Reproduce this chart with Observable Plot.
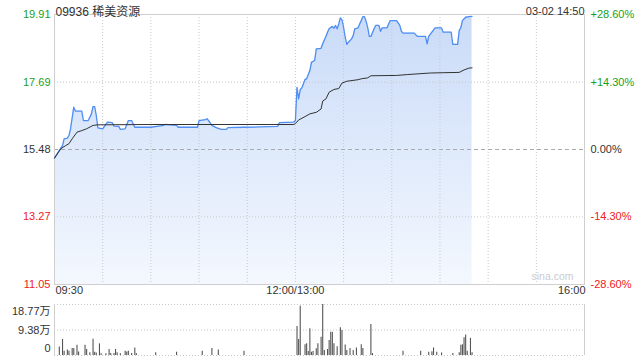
<!DOCTYPE html>
<html><head><meta charset="utf-8">
<script src="https://cdn.jsdelivr.net/npm/d3@7"></script>
<script src="https://cdn.jsdelivr.net/npm/@observablehq/plot@0.6"></script>
<style>
body{margin:0;background:#fff;}
#c{width:640px;height:360px;overflow:hidden;}
#c svg{display:block;}
</style></head>
<body><div id="c"></div>
<script>
const titleText = "09936 稀美资源";
const stampText = "03-02 14:50";
const watermark = "sina.com";
const prevClose = 15.48;

const priceTime = ["09:30","09:33","09:35","09:36","09:38","09:39","09:40","09:42","09:43","09:47","09:48","09:51","09:52","09:53","09:54","09:55","09:56","09:57","10:00","10:03","10:06","10:07","10:10","10:11","10:14","10:16","10:18","10:20","10:30","10:38","10:39","10:46","10:47","10:59","11:00","11:04","11:05","11:07","11:08","11:11","11:14","11:17","11:18","11:28","11:38","11:49","11:50","11:59","13:00","13:01","13:02","13:03","13:04","13:06","13:07","13:09","13:10","13:12","13:13","13:16","13:17","13:19","13:20","13:21","13:23","13:24","13:25","13:26","13:27","13:28","13:29","13:30","13:31","13:32","13:33","13:35","13:36","13:37","13:39","13:40","13:41","13:42","13:43","13:44","13:45","13:46","13:47","13:49","13:50","13:52","13:53","13:54","13:57","13:59","14:03","14:05","14:06","14:07","14:14","14:16","14:21","14:22","14:23","14:25","14:27","14:31","14:32","14:37","14:38","14:41","14:42","14:43","14:44","14:46","14:48","14:50"];
const priceValue = [15.20,15.45,15.61,15.83,15.85,15.94,16.16,16.87,16.74,16.74,16.43,16.43,16.54,16.65,16.89,16.89,16.60,16.19,16.16,16.38,16.36,16.25,16.24,16.14,16.16,16.43,16.43,16.21,16.21,16.27,16.30,16.27,16.21,16.21,16.43,16.46,16.49,16.35,16.27,16.19,16.14,16.14,16.20,16.21,16.22,16.24,16.36,16.38,
16.43,17.52,17.14,17.44,17.50,17.78,17.80,18.07,18.34,18.40,18.78,18.80,18.95,19.19,19.33,19.44,19.52,19.46,19.55,19.44,19.60,19.80,19.73,19.49,19.17,18.93,19.00,19.11,19.22,19.44,19.47,19.60,19.71,19.84,19.84,19.69,19.49,19.19,19.19,19.44,19.55,19.55,19.36,19.47,19.47,19.71,19.71,19.55,19.36,19.30,19.30,19.19,19.19,18.95,19.19,19.33,19.47,19.47,19.33,19.33,18.93,18.93,19.39,19.47,19.71,19.82,19.84,19.85];

const avgTime = ["09:30","09:34","09:37","09:39","09:41","09:44","09:47","09:50","09:54","09:57","10:30","11:00","11:59","13:00","13:02","13:06","13:09","13:13","13:16","13:17","13:19","13:21","13:24","13:27","13:29","13:32","13:39","13:41","13:45","13:47","14:03","14:10","14:24","14:32","14:42","14:45","14:48","14:50"];
const avgValue = [15.20,15.51,15.61,15.67,15.83,16.05,16.10,16.16,16.27,16.29,16.30,16.30,16.30,16.33,16.45,16.56,16.65,16.70,16.81,17.07,17.14,17.36,17.45,17.48,17.66,17.72,17.77,17.80,17.83,17.90,17.91,17.94,17.99,18.00,18.01,18.09,18.15,18.16];

const volTime = ["09:33","09:35","09:36","09:38","09:39","09:41","09:42","09:44","09:45","09:49","09:50","09:52","09:54","09:55","09:56","09:58","09:59","10:02","10:04","10:05","10:07","10:08","10:09","10:11","10:14","10:15","10:16","10:18","10:20","10:21","10:33","10:46","11:02","11:08","11:12","11:28","13:01","13:02","13:03","13:06","13:07","13:08","13:09","13:10","13:11","13:13","13:14","13:16","13:17","13:18","13:20","13:21","13:22","13:23","13:24","13:26","13:28","13:29","13:31","13:32","13:34","13:36","13:38","13:41","13:42","13:47","13:48","14:07","14:18","14:23","14:25","14:26","14:28","14:31","14:38","14:42","14:43","14:44","14:45","14:46","14:47","14:49","14:50"];
const volValue = [3.1,5.9,1.6,2.0,1.6,2.6,2.6,3.8,1.3,3.8,2.2,1.0,6.0,1.2,0.9,4.3,0.6,0.6,2.2,0.7,0.7,2.2,1.0,0.6,1.6,1.3,1.6,0.7,2.8,0.6,1.0,1.2,1.6,2.6,2.0,1.6,10.7,5.9,18.1,4.0,4.3,1.5,9.8,1.2,1.5,2.5,4.3,6.7,18.77,1.8,2.2,5.5,8.6,8.6,4.3,3.2,10.2,9.2,3.9,1.8,2.6,1.8,2.8,4.0,2.6,11.4,0.7,1.6,1.6,1.2,1.4,2.8,1.2,0.9,0.7,1.0,3.8,4.0,6.5,7.5,1.6,6.3,1.0];

const priceTicks = [19.91, 17.69, 15.48, 13.27, 11.05];
const pctLabels = ["+28.60%","+14.30%","0.00%","-14.30%","-28.60%"];
const volTicks = [18.77, 9.38, 0];
const volLabels = ["18.77万","9.38万","0"];
const xTickTimes = ["09:30","13:00","16:00"];
const xTickLabels = ["09:30","12:00/13:00","16:00"];
const gridTimes = ["10:00","10:30","11:00","11:30","13:00","13:30","14:00","14:30","15:00","15:30"];

function toM(t){const [h,mm]=t.split(":").map(Number);const v=h*60+mm;return v<=720?v-570:v-780+150;}
const GREEN="#1a9f1a", RED="#f02020", INK="#333";
const colorOf = v => v>prevClose+1e-9?GREEN:(v<prevClose-1e-9?RED:INK);

const price = priceTime.map((t,i)=>({m:toM(t),p:priceValue[i]}));
const avg = avgTime.map((t,i)=>({m:toM(t),p:avgValue[i]}));
const vol = volTime.map((t,i)=>({m:toM(t),v:volValue[i]}));
const yt = priceTicks.map((v,i)=>({v,pct:pctLabels[i],c:colorOf(v)}));
const vt = volTicks.map((v,i)=>({v,l:volLabels[i]}));
const FONT="'Liberation Sans', Arial, 'Noto Sans CJK SC', sans-serif";
const xDom=[0,330];
const yMin=priceTicks[priceTicks.length-1];

const main = Plot.plot({
  width:640,height:300,marginTop:14,marginBottom:16,marginLeft:54,marginRight:56,
  style:{fontFamily:FONT,fontSize:"11px",background:"transparent",overflow:"visible"},
  x:{domain:xDom,axis:null},
  y:{domain:[yMin,priceTicks[0]],axis:null},
  marks:[
    Plot.areaY(price,{x:"m",y1:yMin,y2:"p",fill:"url(#pgrad)"}),
    Plot.ruleX(gridTimes.map(toM),{stroke:"#c8c8c8",strokeDasharray:"1,2"}),
    Plot.ruleY([priceTicks[1],priceTicks[3]],{stroke:"#c8c8c8",strokeDasharray:"1,2"}),
    Plot.ruleY([prevClose],{stroke:"#aaa",strokeDasharray:"4,3"}),
    Plot.frame({stroke:"#cfcfcf"}),
    Plot.line(price,{x:"m",y:"p",stroke:"#4f8ef2",strokeWidth:1.3}),
    Plot.line(avg,{x:"m",y:"p",stroke:"#333",strokeWidth:1}),
    Plot.text(yt,{y:"v",text:d=>d.v.toFixed(2),fill:"c",frameAnchor:"left",textAnchor:"end",dx:-4}),
    Plot.text(yt,{y:"v",text:"pct",fill:"c",frameAnchor:"right",textAnchor:"start",dx:6}),
    Plot.text([xTickLabels[0]],{x:[toM(xTickTimes[0])],text:d=>d,frameAnchor:"bottom",textAnchor:"start",dy:9,dx:1,fill:INK}),
    Plot.text([xTickLabels[1]],{x:[toM(xTickTimes[1])],text:d=>d,frameAnchor:"bottom",textAnchor:"middle",dy:9,fill:INK}),
    Plot.text([xTickLabels[2]],{x:[toM(xTickTimes[2])],text:d=>d,frameAnchor:"bottom",textAnchor:"end",dy:9,dx:1,fill:INK}),
    Plot.text([titleText],{text:d=>d,frameAnchor:"top-left",textAnchor:"start",dy:-7,dx:1,fill:INK,fontSize:12}),
    Plot.text([stampText],{text:d=>d,frameAnchor:"top-right",textAnchor:"end",dy:-7,fill:INK}),
    Plot.text([watermark],{text:d=>d,frameAnchor:"bottom-right",textAnchor:"end",dx:-11,dy:-5,fill:"#cccccc",fontSize:10.5})
  ]
});
const NS="http://www.w3.org/2000/svg";
const defs=document.createElementNS(NS,"defs");
const lg=document.createElementNS(NS,"linearGradient");
lg.setAttribute("id","pgrad");lg.setAttribute("gradientUnits","userSpaceOnUse");
lg.setAttribute("x1","0");lg.setAttribute("x2","0");lg.setAttribute("y1","14");lg.setAttribute("y2","284");
[["0","#c9dbf8"],["1","#f4f8fe"]].forEach(([o,c])=>{const s=document.createElementNS(NS,"stop");s.setAttribute("offset",o);s.setAttribute("stop-color",c);lg.appendChild(s);});
defs.appendChild(lg);main.insertBefore(defs,main.firstChild);

const vplot = Plot.plot({
  width:640,height:60,marginTop:4,marginBottom:5,marginLeft:54,marginRight:56,
  style:{fontFamily:FONT,fontSize:"11px",background:"transparent",overflow:"visible"},
  x:{domain:xDom,axis:null},
  y:{domain:[0,volTicks[0]],axis:null},
  marks:[
    Plot.ruleY(volTicks,{stroke:"#c8c8c8",strokeDasharray:"1,2"}),
    Plot.ruleX(xDom,{stroke:"#cfcfcf"}),
    Plot.ruleX(vol,{x:"m",y:"v",stroke:"#555",strokeWidth:1.1}),
    Plot.text([vt[0]],{y:"v",text:"l",frameAnchor:"left",textAnchor:"end",dx:-4,dy:7,fill:INK}),
    Plot.text([vt[1]],{y:"v",text:"l",frameAnchor:"left",textAnchor:"end",dx:-4,fill:INK}),
    Plot.text([vt[2]],{y:"v",text:"l",frameAnchor:"left",textAnchor:"end",dx:-4,dy:-7,fill:INK})
  ]
});
const c=document.getElementById("c");
c.appendChild(main);c.appendChild(vplot);
</script></body></html>
